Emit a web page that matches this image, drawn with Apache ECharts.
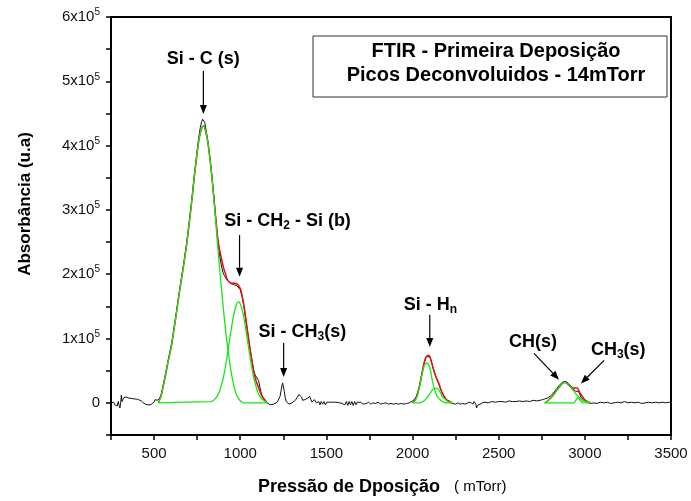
<!DOCTYPE html>
<html>
<head>
<meta charset="utf-8">
<script src="https://cdn.jsdelivr.net/npm/echarts@6/dist/echarts.min.js"></script>
<style>
  html, body { margin: 0; padding: 0; background: #fff; }
  #chart { width: 691px; height: 501px; }
</style>
</head>
<body>
<div id="chart"></div>
<script>
const FONT = '"Liberation Sans", Arial, Helvetica, sans-serif';

// Axis ranges (absorbance in units of 10^5)
const xRange = [250, 3500];
const xTickStep = 250;
const xLabelStep = 500;
const yRange = [-0.5, 6];
const yTickStep = 0.5;
const yLabelStep = 1;

// Measured spectrum: [pressure, absorbance x1e5]
const measured = [
  [250,0.00],[258,-0.02],[266,0.01],[272,-0.03],[280,-0.01],[286,-0.05],[292,0.02],[297,-0.04],[302,-0.08],[306,0.00],
  [310,0.12],[314,0.02],[318,0.04],[324,0.08],[330,0.06],[336,0.09],[342,0.06],[348,0.08],[354,0.05],[360,0.07],
  [366,0.05],[372,0.07],[378,0.05],[384,0.06],[390,0.04],[396,0.06],[402,0.04],[410,0.05],[418,0.03],[426,0.03],
  [434,0.01],[442,-0.01],[450,-0.02],[460,-0.03],[470,-0.04],[480,-0.03],[490,-0.02],[500,0.01],[506,0.05],[512,0.07],
  [518,0.04],[524,0.03],[530,0.06],[540,0.12],[552,0.26],[564,0.42],[580,0.64],[592,0.80],[603,0.94],[620,1.24],
  [632,1.46],[646,1.72],[661,1.98],[676,2.24],[690,2.50],[702,2.77],[713,3.02],[724,3.29],[734,3.55],[746,3.83],
  [758,4.10],[768,4.28],[776,4.37],[782,4.41],[788,4.41],[794,4.36],[802,4.24],[812,4.07],[824,3.82],[835,3.55],
  [846,3.22],[857,2.90],[868,2.58],[880,2.30],[893,2.10],[903,2.00],[913,1.96],[926,1.90],[942,1.86],[961,1.84],
  [981,1.82],[1000,1.76],[1010,1.66],[1023,1.47],[1039,1.16],[1058,0.82],[1077,0.52],[1087,0.43],[1097,0.40],[1106,0.35],
  [1113,0.26],[1120,0.17],[1128,0.09],[1136,0.05],[1145,0.02],[1155,0.00],[1165,-0.02],[1174,-0.03],[1185,-0.03],[1195,-0.02],
  [1205,-0.01],[1215,0.01],[1223,0.04],[1231,0.10],[1237,0.19],[1242,0.27],[1246,0.31],[1250,0.28],[1256,0.18],[1261,0.08],
  [1267,0.02],[1275,-0.01],[1283,-0.02],[1291,-0.02],[1300,0.00],[1310,0.02],[1320,0.04],[1330,0.08],[1340,0.13],[1349,0.14],
  [1356,0.09],[1362,0.04],[1368,0.02],[1375,0.05],[1382,0.08],[1390,0.07],[1396,0.09],[1403,0.10],[1410,0.05],[1417,0.01],
  [1424,0.03],[1430,0.05],[1436,0.03],[1443,0.00],[1449,-0.02],[1456,0.02],[1463,-0.03],[1470,0.02],[1478,-0.02],[1486,0.02],
  [1494,-0.03],[1502,0.01],[1510,-0.02],[1518,0.01],[1527,-0.02],[1536,0.01],[1546,-0.01],[1556,0.01],[1566,-0.02],[1578,0.00],
  [1590,-0.01],[1600,0.01],[1608,-0.03],[1616,0.02],[1624,-0.04],[1632,0.02],[1640,-0.03],[1648,0.02],[1656,-0.04],[1664,0.02],
  [1672,-0.03],[1680,0.01],[1690,-0.02],[1700,0.01],[1712,-0.02],[1722,0.00],[1732,-0.01],[1745,0.01],[1758,-0.02],[1770,0.00],
  [1785,-0.01],[1800,0.01],[1815,-0.02],[1830,-0.01],[1845,0.00],[1860,-0.02],[1875,-0.01],[1890,-0.02],[1905,-0.01],[1920,-0.02],
  [1935,-0.01],[1950,-0.02],[1965,-0.01],[1980,0.00],[1995,0.02],[2010,0.05],[2020,0.09],[2027,0.14],[2037,0.22],[2047,0.35],
  [2056,0.47],[2066,0.60],[2076,0.69],[2085,0.73],[2094,0.74],[2103,0.70],[2114,0.60],[2124,0.50],[2134,0.41],[2143,0.35],
  [2153,0.29],[2163,0.21],[2172,0.15],[2182,0.10],[2192,0.06],[2202,0.03],[2211,0.02],[2221,0.00],[2231,-0.01],[2240,0.00],
  [2250,-0.02],[2262,0.00],[2275,-0.02],[2290,-0.01],[2305,-0.02],[2320,0.00],[2335,0.01],[2343,0.03],[2350,-0.02],[2353,-0.05],
  [2357,0.02],[2362,0.03],[2367,-0.02],[2372,-0.08],[2377,-0.04],[2382,-0.01],[2392,-0.02],[2405,0.00],[2420,0.01],[2440,0.00],
  [2460,0.02],[2480,0.01],[2500,0.02],[2520,0.02],[2540,0.01],[2560,0.03],[2580,0.02],[2600,0.02],[2620,0.03],[2640,0.02],
  [2660,0.03],[2680,0.02],[2700,0.04],[2720,0.03],[2740,0.04],[2755,0.05],[2767,0.06],[2780,0.07],[2792,0.09],[2807,0.12],
  [2822,0.17],[2836,0.22],[2851,0.27],[2865,0.31],[2877,0.33],[2884,0.34],[2893,0.33],[2905,0.30],[2919,0.26],[2930,0.22],
  [2940,0.19],[2948,0.18],[2955,0.19],[2962,0.18],[2970,0.14],[2977,0.09],[2986,0.06],[2995,0.03],[3006,0.01],[3020,0.00],
  [3035,-0.01],[3050,0.00],[3070,-0.01],[3090,0.01],[3110,0.00],[3130,0.01],[3150,-0.01],[3170,0.00],[3190,0.01],[3210,0.00],
  [3230,0.02],[3250,0.00],[3270,0.01],[3290,0.00],[3310,0.01],[3330,-0.01],[3350,0.00],[3370,0.01],[3390,0.00],[3410,0.01],
  [3430,0.00],[3450,0.01],[3470,0.00],[3490,0.01],[3500,0.00]
];

// Fitted sums (red)
const fitSiC = [
  [525,0.00],[540,0.10],[564,0.40],[580,0.62],[603,0.92],[620,1.22],[632,1.44],[646,1.70],[661,1.96],[676,2.22],
  [690,2.48],[702,2.75],[713,3.00],[724,3.27],[734,3.53],[746,3.80],[758,4.05],[770,4.22],[780,4.29],[786,4.31],
  [792,4.29],[800,4.22],[812,4.05],[824,3.80],[835,3.53],[846,3.22],[857,2.90],[868,2.59],[880,2.38],[893,2.22],
  [903,2.10],[913,2.02],[926,1.91],[942,1.87],[961,1.86],[981,1.85],[1000,1.78],[1010,1.68],[1023,1.49],[1039,1.18],
  [1058,0.82],[1077,0.50],[1092,0.34],[1106,0.24],[1120,0.14],[1133,0.08],[1145,0.04],[1155,0.00]
];
const fitSiH = [
  [2000,0.00],[2010,0.03],[2020,0.07],[2027,0.12],[2037,0.22],[2047,0.35],[2056,0.48],[2066,0.61],[2076,0.70],[2085,0.73],
  [2094,0.74],[2103,0.70],[2114,0.59],[2124,0.50],[2134,0.42],[2143,0.36],[2153,0.30],[2163,0.22],[2172,0.16],[2182,0.11],
  [2192,0.07],[2202,0.04],[2211,0.03],[2221,0.01],[2231,0.00]
];
const fitCH = [
  [2767,0.00],[2780,0.02],[2792,0.05],[2807,0.09],[2822,0.14],[2836,0.19],[2851,0.24],[2865,0.29],[2877,0.31],[2884,0.32],
  [2893,0.31],[2905,0.28],[2919,0.25],[2933,0.23],[2945,0.23],[2955,0.23],[2962,0.21],[2972,0.15],[2986,0.10],[2998,0.05],
  [3010,0.03],[3022,0.01],[3035,0.00]
];

// Deconvoluted components (green)
const peakSiC = [
  [525,0.00],[540,0.10],[564,0.40],[580,0.62],[603,0.92],[620,1.22],[632,1.44],[646,1.70],[661,1.96],[676,2.22],
  [690,2.48],[702,2.75],[713,3.00],[724,3.27],[734,3.53],[746,3.80],[758,4.05],[770,4.22],[780,4.29],[786,4.31],
  [792,4.29],[800,4.22],[812,4.05],[824,3.80],[835,3.53],[846,3.20],[857,2.85],[868,2.48],[880,2.10],[891,1.77],
  [903,1.44],[917,1.08],[932,0.76],[946,0.50],[961,0.29],[975,0.15],[990,0.07],[1005,0.02],[1019,0.00],[1155,0.00]
];
const peakSiCH2 = [
  [525,0.00],[830,0.02],[840,0.03],[850,0.05],[860,0.08],[870,0.12],[880,0.18],[890,0.27],[900,0.37],[910,0.50],
  [920,0.66],[930,0.83],[940,1.01],[950,1.18],[960,1.34],[970,1.46],[980,1.54],[990,1.57],[1000,1.54],[1010,1.46],
  [1020,1.34],[1030,1.18],[1040,1.01],[1050,0.83],[1060,0.66],[1070,0.50],[1080,0.37],[1090,0.27],[1100,0.18],[1110,0.12],
  [1120,0.08],[1130,0.05],[1140,0.03],[1150,0.01],[1155,0.00]
];
const peakSiH1 = [
  [2000,0.00],[2010,0.02],[2020,0.06],[2027,0.10],[2037,0.20],[2047,0.33],[2056,0.45],[2066,0.56],[2076,0.61],[2085,0.62],
  [2094,0.59],[2103,0.52],[2114,0.36],[2124,0.24],[2134,0.16],[2143,0.10],[2153,0.07],[2163,0.04],[2173,0.02],[2182,0.01],
  [2192,0.00],[2231,0.00]
];
const peakSiH2 = [
  [2000,0.00],[2040,0.00],[2060,0.02],[2075,0.05],[2085,0.08],[2095,0.12],[2105,0.16],[2115,0.20],[2125,0.22],[2138,0.23],
  [2150,0.21],[2163,0.15],[2175,0.09],[2192,0.05],[2205,0.02],[2221,0.00],[2231,0.00]
];
const peakCH = [
  [2767,0.00],[2780,0.02],[2792,0.05],[2807,0.09],[2822,0.14],[2836,0.19],[2851,0.24],[2865,0.29],[2877,0.31],[2884,0.32],
  [2893,0.31],[2905,0.28],[2919,0.24],[2933,0.19],[2948,0.14],[2962,0.10],[2977,0.06],[2992,0.03],[3006,0.02],[3020,0.01],
  [3035,0.00]
];
const peakCH3 = [
  [2767,0.00],[2936,0.00],[2945,0.03],[2952,0.06],[2960,0.08],[2968,0.06],[2976,0.03],[2991,0.00],[3035,0.00]
];

// Band labels: text position and arrow (tail -> head), all in data coordinates
const bandLabels = [
  { text: '{t|Si - C (s)}', at: [786, 5.35], align: 'center', from: [786, 5.16], to: [786, 4.49] },
  { text: '{t|Si - CH}{sub|2}{t| - Si (b)}', at: [907, 2.82], align: 'left', from: [996, 2.61], to: [996, 1.96] },
  { text: '{t|Si - CH}{sub|3}{t|(s)}', at: [1106, 1.10], align: 'left', from: [1252, 0.93], to: [1252, 0.40] },
  { text: '{t|Si - H}{sub|n}', at: [1949, 1.52], align: 'left', from: [2100, 1.37], to: [2100, 0.87] },
  { text: '{t|CH(s)}', at: [2560, 0.95], align: 'left', from: [2705, 0.77], to: [2850, 0.36] },
  { text: '{t|CH}{sub|3}{t|(s)}', at: [3035, 0.82], align: 'left', from: [3112, 0.66], to: [2977, 0.30] }
];

const titleLines = ['FTIR - Primeira Deposição', 'Picos Deconvoluidos - 14mTorr'];
const yAxisTitle = 'Absorbância (u.a)';
const xAxisTitle = 'Pressão de Dposição';
const xAxisUnit = '( mTorr)';

const BLACK = '#111';
const RED = '#e01010';
const GREEN = '#19e619';

const chart = echarts.init(document.getElementById('chart'), null, { renderer: 'canvas' });

function line(name, data, color, width, z, smooth) {
  return {
    name, type: 'line', data, z,
    showSymbol: false, smooth: smooth ? 0.25 : false,
    lineStyle: { color, width }, itemStyle: { color },
    silent: true, animation: false, clip: true
  };
}

const option = {
  animation: false,
  grid: { left: 111, right: 20, top: 17, bottom: 66, show: true, borderColor: '#000', borderWidth: 2, backgroundColor: 'transparent' },
  xAxis: {
    type: 'value', min: xRange[0], max: xRange[1], interval: xTickStep,
    axisLine: { show: true, onZero: false, lineStyle: { color: '#000', width: 2 } },
    axisTick: { show: true, inside: false, length: 5, lineStyle: { color: '#000', width: 1.5 } },
    axisLabel: {
      margin: 11, fontSize: 15, fontFamily: FONT, color: '#111',
      formatter: v => (v % xLabelStep === 0 ? String(v) : '')
    },
    splitLine: { show: false }
  },
  yAxis: {
    type: 'value', min: yRange[0], max: yRange[1], interval: yTickStep,
    axisLine: { show: true, onZero: false, lineStyle: { color: '#000', width: 2 } },
    axisTick: { show: true, inside: false, length: 5, lineStyle: { color: '#000', width: 1.5 } },
    axisLabel: {
      margin: 11, fontSize: 15, fontFamily: FONT, color: '#111',
      formatter: v => {
        if (Math.abs(v - Math.round(v / yLabelStep) * yLabelStep) > 1e-9) return '';
        if (v === 0) return '{m|0}';
        if (v < 0) return '';
        return '{m|' + v + 'x10}{s|5}';
      },
      rich: {
        m: { fontSize: 15, fontFamily: FONT, color: '#111' },
        s: { fontSize: 10, fontFamily: FONT, color: '#111', padding: [0, 0, 9, 0] }
      }
    },
    splitLine: { show: false }
  },
  series: [
    line('measured', measured, BLACK, 1, 2, false),
    line('fitSiC', fitSiC, RED, 1.5, 3, true),
    line('fitSiH', fitSiH, RED, 1.5, 3, true),
    line('fitCH', fitCH, RED, 1.5, 3, true),
    line('peakSiC', peakSiC, GREEN, 1.3, 4, true),
    line('peakSiCH2', peakSiCH2, GREEN, 1.3, 4, true),
    line('peakSiH1', peakSiH1, GREEN, 1.3, 4, true),
    line('peakSiH2', peakSiH2, GREEN, 1.3, 4, true),
    line('peakCH', peakCH, GREEN, 1.3, 4, true),
    line('peakCH3', peakCH3, GREEN, 1.3, 4, true)
  ]
};
chart.setOption(option);

// Annotations: band labels with arrows, title box and axis titles
const labelRich = {
  t: { fontSize: 18, fontWeight: 'bold', fontFamily: FONT, fill: '#000' },
  sub: { fontSize: 12, fontWeight: 'bold', fontFamily: FONT, fill: '#000', padding: [9, 0, 0, 0] }
};
const toPx = p => chart.convertToPixel({ gridIndex: 0 }, p);
const graphics = [];

bandLabels.forEach(b => {
  const at = toPx(b.at), p0 = toPx(b.from), p1 = toPx(b.to);
  graphics.push({
    type: 'text', x: at[0], y: at[1], z: 10,
    style: { text: b.text, rich: labelRich, align: b.align, verticalAlign: 'middle' }
  });
  const dx = p1[0] - p0[0], dy = p1[1] - p0[1];
  const len = Math.hypot(dx, dy), ux = dx / len, uy = dy / len;
  const headLen = 9, headHalf = 3.5;
  const bx = p1[0] - ux * headLen, by = p1[1] - uy * headLen;
  graphics.push({
    type: 'line', z: 10,
    shape: { x1: p0[0], y1: p0[1], x2: bx, y2: by },
    style: { stroke: '#000', lineWidth: 1.2 }
  });
  graphics.push({
    type: 'polygon', z: 10,
    shape: { points: [[p1[0], p1[1]], [bx - uy * headHalf, by + ux * headHalf], [bx + uy * headHalf, by - ux * headHalf]] },
    style: { fill: '#000' }
  });
});

graphics.push({
  type: 'rect', z: 10,
  shape: { x: 313, y: 36, width: 354, height: 61 },
  style: { fill: '#fff', stroke: '#333', lineWidth: 1 }
});
titleLines.forEach((t, i) => {
  graphics.push({
    type: 'text', z: 11, x: 496, y: 51 + i * 24,
    style: { text: t, fontSize: 20, fontWeight: 'bold', fontFamily: FONT, fill: '#000', align: 'center', verticalAlign: 'middle' }
  });
});

graphics.push({
  type: 'text', z: 10, x: 25, y: 204, rotation: Math.PI / 2,
  style: { text: yAxisTitle, fontSize: 17, fontWeight: 'bold', fontFamily: FONT, fill: '#000', align: 'center', verticalAlign: 'middle' }
});
graphics.push({
  type: 'text', z: 10, x: 258, y: 487,
  style: { text: xAxisTitle, fontSize: 18, fontWeight: 'bold', fontFamily: FONT, fill: '#000', align: 'left', verticalAlign: 'middle' }
});
graphics.push({
  type: 'text', z: 10, x: 454, y: 487,
  style: { text: xAxisUnit, fontSize: 15, fontFamily: FONT, fill: '#000', align: 'left', verticalAlign: 'middle' }
});

chart.setOption({ graphic: graphics });
</script>
</body>
</html>
